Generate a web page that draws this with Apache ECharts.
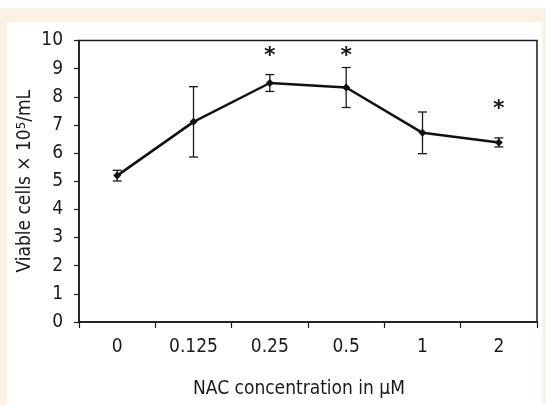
<!DOCTYPE html>
<html>
<head>
<meta charset="utf-8">
<script src="https://cdn.jsdelivr.net/npm/echarts@6/dist/echarts.min.js"></script>
<style>
  html, body { margin: 0; padding: 0; background: #fff; }
  #wrap { position: relative; width: 546px; height: 405px; overflow: hidden; }
  #cream { position: absolute; left: 0; top: 8px; width: 546px; height: 397px; background: #fcf2e3; }
  #panel { position: absolute; left: 7px; top: 22px; width: 535px; height: 383px; background: #fff; }
  #chart { position: absolute; left: 0; top: 0; width: 546px; height: 405px; }
</style>
</head>
<body>
<div id="wrap">
  <div id="cream"></div>
  <div id="panel"></div>
  <div id="chart"></div>
</div>
<script>
// NAC concentration (µM) categories
const concentrations = ['0', '0.125', '0.25', '0.5', '1', '2']
// viable cells x 10^5/mL, mean and error (±)
const viableMean = [5.2, 7.11, 8.49, 8.33, 6.72, 6.38]
const viableErr = [0.19, 1.25, 0.3, 0.71, 0.74, 0.16]
// height of the significance asterisks (null = none)
const starLevel = [null, null, 9.62, 9.62, null, 7.72]
const yTicks = [0, 1, 2, 3, 4, 5, 6, 7, 8, 9, 10]

const font = '"DejaVu Sans Condensed", "Liberation Sans", sans-serif'
const ink = '#1a1a1a'

const errData = viableMean.map((m, i) => [i, m - viableErr[i], m + viableErr[i]])
const starData = starLevel.map((v, i) => [i, v]).filter(d => d[1] !== null)

const chart = echarts.init(document.getElementById('chart'))
chart.setOption({
  animation: false,
  grid: {
    left: 79, top: 40.5, right: 9, bottom: 83,
    show: true, borderColor: ink, borderWidth: 1.5, backgroundColor: 'transparent'
  },
  xAxis: {
    type: 'category',
    data: concentrations,
    boundaryGap: true,
    axisLine: { lineStyle: { color: ink, width: 1.5 } },
    axisTick: { show: true, inside: false, length: 6, lineStyle: { color: ink, width: 1.2 } },
    axisLabel: { color: ink, fontFamily: font, fontSize: 19, margin: 16 },
    name: 'NAC concentration in µM',
    nameLocation: 'middle',
    nameMoveOverlap: false,
    nameGap: 58,
    nameTextStyle: { color: ink, fontFamily: font, fontSize: 19, padding: [0, 18, 0, 0] }
  },
  yAxis: {
    type: 'value',
    min: 0, max: 10, interval: 1,
    splitLine: { show: false },
    axisLine: { show: true, lineStyle: { color: ink, width: 1.5 } },
    axisTick: { show: true, inside: false, length: 5, lineStyle: { color: ink, width: 1.2 } },
    axisLabel: {
      color: ink, fontFamily: font, fontSize: 19, margin: 16,
      formatter: v => yTicks.includes(v) ? String(v) : ''
    },
    name: '{t|Viable cells × 10}{s|5}{t|/mL}',
    nameLocation: 'middle',
    nameMoveOverlap: false,
    nameGap: 43,
    nameRotate: 90,
    nameTextStyle: {
      rich: {
        t: { color: ink, fontFamily: font, fontSize: 19 },
        s: { color: ink, fontFamily: font, fontSize: 13, verticalAlign: 'top', padding: [0, 0, 8, 0] }
      }
    }
  },
  series: [
    {
      type: 'custom',
      data: errData,
      z: 3,
      renderItem: (params, api) => {
        const lo = api.coord([api.value(0), api.value(1)])
        const hi = api.coord([api.value(0), api.value(2)])
        const w = 4.5
        const st = { stroke: ink, lineWidth: 1.3 }
        return {
          type: 'group',
          children: [
            { type: 'line', shape: { x1: lo[0], y1: lo[1], x2: hi[0], y2: hi[1] }, style: st },
            { type: 'line', shape: { x1: lo[0] - w, y1: lo[1], x2: lo[0] + w, y2: lo[1] }, style: st },
            { type: 'line', shape: { x1: hi[0] - w, y1: hi[1], x2: hi[0] + w, y2: hi[1] }, style: st }
          ]
        }
      }
    },
    {
      type: 'line',
      data: viableMean,
      z: 4,
      symbol: 'diamond',
      symbolSize: 8,
      itemStyle: { color: '#111' },
      lineStyle: { color: '#111', width: 2.5 }
    },
    {
      type: 'custom',
      data: starData,
      z: 5,
      renderItem: (params, api) => {
        const p = api.coord([api.value(0), api.value(1)])
        // the glyph sits high in its box, so push it down a little
        return {
          type: 'text',
          x: p[0], y: p[1] + 5,
          style: {
            text: '*', fill: ink, fontFamily: 'DejaVu Sans, sans-serif', fontSize: 22, fontWeight: 'bold',
            align: 'center', verticalAlign: 'middle'
          }
        }
      }
    }
  ]
})
</script>
</body>
</html>
